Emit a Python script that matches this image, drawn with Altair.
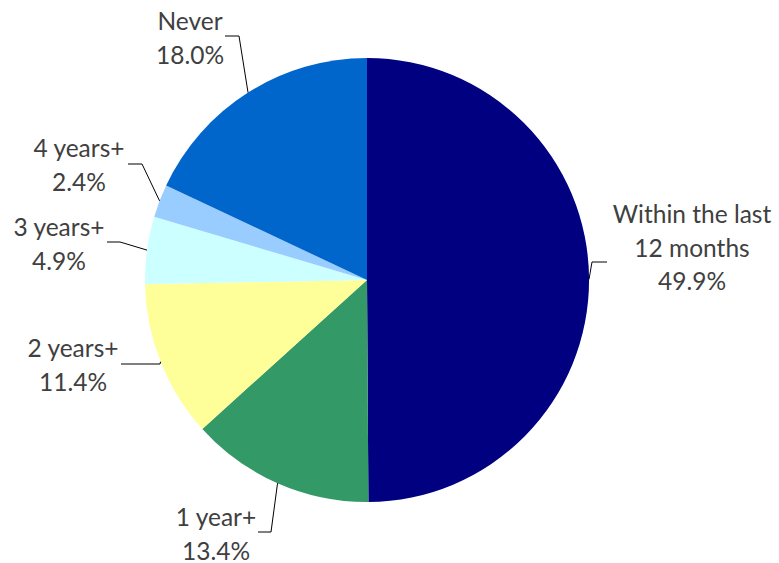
import math
import altair as alt
import pandas as pd

# ---- data ----
categories = ["Within the last 12 months", "1 year+", "2 years+", "3 years+", "4 years+", "Never"]
label_lines = [["Within the last", "12 months", "49.9%"], ["1 year+", "13.4%"], ["2 years+", "11.4%"],
               ["3 years+", "4.9%"], ["4 years+", "2.4%"], ["Never", "18.0%"]]
values = [49.9, 13.4, 11.4, 4.9, 2.4, 18.0]
colors = ["#000080", "#339966", "#FFFF99", "#CCFFFF", "#99CCFF", "#0066CC"]

# ---- layout (pixels) ----
W, H = 779, 563
CX, CY, R = 367, 280, 222
# centre x and first-line centre y of each label block
label_pos = [(692, 216), (216, 519), (73, 350), (59, 229), (79, 150), (190, 23)]
elbows = [(592, 262), (271, 532), (160, 364), (120, 242), (142, 164), (239, 36)]
ends = [(607, 262), (258, 532), (121, 364), (107, 242), (128, 164), (225, 36)]

pie_df = pd.DataFrame({"category": categories, "value": values, "idx": range(len(values))})

total = sum(values)
rows = []
cum = 0.0
for i, (c, v) in enumerate(zip(categories, values)):
    mid = (cum + v / 2) / total * 2 * math.pi
    cum += v
    ex = CX + R * math.sin(mid)
    ey = CY - R * math.cos(mid)
    for k, (px, py) in enumerate([(ex, ey), elbows[i], ends[i]]):
        rows.append({"category": c, "step": k, "px": px, "py": py})
lines_df = pd.DataFrame(rows)

text_df = pd.DataFrame({
    "category": categories,
    "label": ["\n".join(l) for l in label_lines],
    "px": [p[0] for p in label_pos],
    "py": [p[1] for p in label_pos],
})

xs = alt.Scale(domain=[0, W], range=[0, W])
ys = alt.Scale(domain=[0, H], range=[0, H])

pie = alt.Chart(pie_df).mark_arc(radius=R).encode(
    theta=alt.Theta("value:Q", stack=True),
    color=alt.Color("category:N", scale=alt.Scale(domain=categories, range=colors), legend=None),
    order=alt.Order("idx:Q"),
    x=alt.value(CX),
    y=alt.value(CY),
)

leaders = alt.Chart(lines_df).mark_line(color="#000000", strokeWidth=1).encode(
    x=alt.X("px:Q", scale=xs, axis=None),
    y=alt.Y("py:Q", scale=ys, axis=None),
    detail="category:N",
    order="step:Q",
)

labels = alt.Chart(text_df).mark_text(
    font="Lato", fontSize=24.5, color="#404040", align="center", baseline="middle",
    lineBreak="\n", lineHeight=33.5,
).encode(
    x=alt.X("px:Q", scale=xs, axis=None),
    y=alt.Y("py:Q", scale=ys, axis=None),
    text="label:N",
)

chart = alt.layer(pie, leaders, labels).properties(
    width=W, height=H, padding=0, autosize=alt.AutoSizeParams(type="none"),
    background="white",
).configure_view(stroke=None)

chart.save("out.html", embed_options={"renderer": "svg", "actions": False})
